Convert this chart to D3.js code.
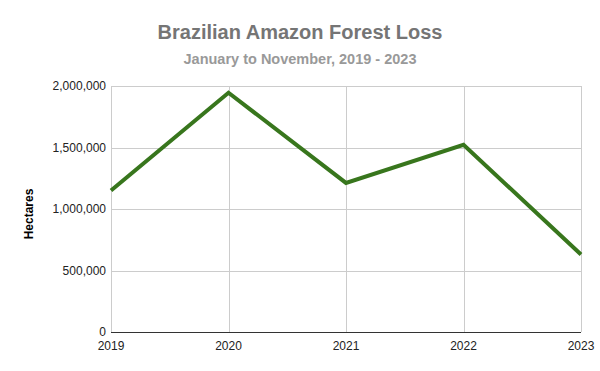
<!DOCTYPE html>
<html>
<head>
<meta charset="utf-8">
<script src="https://cdn.jsdelivr.net/npm/d3@7"></script>
<style>
  body { margin: 0; background: #fff; }
  svg { font-family: "Liberation Sans", Arial, sans-serif; display: block; }
</style>
</head>
<body>
<div id="chart"></div>
<script>
const years = ["2019", "2020", "2021", "2022", "2023"];
const hectares = [1150000, 1945000, 1212000, 1522000, 630000];
const yTicks = [0, 500000, 1000000, 1500000, 2000000];

const width = 600;
const height = 371;
const margin = { top: 86, right: 19, bottom: 39, left: 111 };

const svg = d3.select("#chart")
    .append("svg")
    .attr("width", width)
    .attr("height", height);

const x = d3.scalePoint()
    .domain(years)
    .range([margin.left, width - margin.right]);

const y = d3.scaleLinear()
    .domain([0, 2000000])
    .range([height - margin.bottom, margin.top]);

// Gridlines
svg.append("g")
    .selectAll("line.h")
    .data(yTicks.filter(d => d > 0))
    .join("line")
    .attr("x1", margin.left)
    .attr("x2", width - margin.right)
    .attr("y1", d => Math.round(y(d)) + 0.5)
    .attr("y2", d => Math.round(y(d)) + 0.5)
    .attr("stroke", "#cccccc");

svg.append("g")
    .selectAll("line.v")
    .data(years)
    .join("line")
    .attr("x1", d => Math.round(x(d)) + 0.5)
    .attr("x2", d => Math.round(x(d)) + 0.5)
    .attr("y1", margin.top)
    .attr("y2", height - margin.bottom)
    .attr("stroke", "#cccccc");

// Baseline
svg.append("line")
    .attr("x1", margin.left)
    .attr("x2", width - margin.right)
    .attr("y1", Math.round(y(0)) + 0.5)
    .attr("y2", Math.round(y(0)) + 0.5)
    .attr("stroke", "#333333");

// Y tick labels
svg.append("g")
    .selectAll("text")
    .data(yTicks)
    .join("text")
    .attr("x", margin.left - 5)
    .attr("y", d => y(d) + 4)
    .attr("text-anchor", "end")
    .attr("font-size", 12)
    .attr("fill", "#222")
    .text(d => d3.format(",")(d));

// X tick labels
svg.append("g")
    .selectAll("text")
    .data(years)
    .join("text")
    .attr("x", d => x(d))
    .attr("y", height - margin.bottom + 18)
    .attr("text-anchor", "middle")
    .attr("font-size", 12)
    .attr("fill", "#222")
    .text(d => d);

// Line
const line = d3.line()
    .x((d, i) => x(years[i]))
    .y(d => y(d));

svg.append("path")
    .datum(hectares)
    .attr("fill", "none")
    .attr("stroke", "#38761d")
    .attr("stroke-width", 4)
    .attr("stroke-linejoin", "miter")
    .attr("d", line);

// Titles
svg.append("text")
    .attr("x", width / 2)
    .attr("y", 39)
    .attr("text-anchor", "middle")
    .attr("font-size", 20)
    .attr("font-weight", "bold")
    .attr("fill", "#757575")
    .text("Brazilian Amazon Forest Loss");

svg.append("text")
    .attr("x", width / 2)
    .attr("y", 64)
    .attr("text-anchor", "middle")
    .attr("font-size", 14.5)
    .attr("font-weight", "bold")
    .attr("fill", "#999999")
    .text("January to November, 2019 - 2023");

// Y axis title
svg.append("text")
    .attr("transform", `translate(33, ${(margin.top + height - margin.bottom) / 2 + 5}) rotate(-90)`)
    .attr("text-anchor", "middle")
    .attr("font-size", 12)
    .attr("font-weight", "bold")
    .attr("fill", "#000")
    .text("Hectares");
</script>
</body>
</html>
